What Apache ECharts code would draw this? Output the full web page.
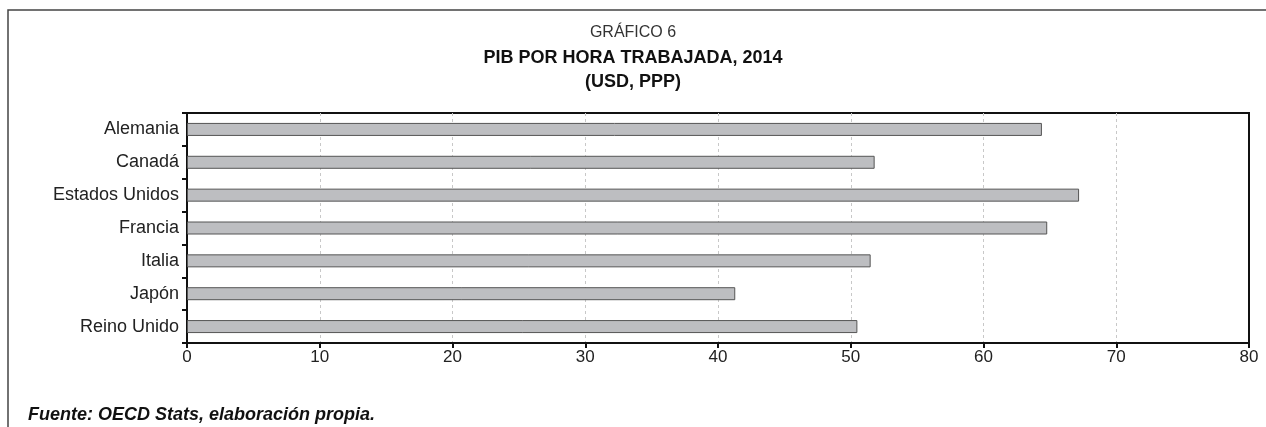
<!DOCTYPE html>
<html>
<head>
<meta charset="utf-8">
<script src="https://cdn.jsdelivr.net/npm/echarts@6/dist/echarts.min.js"></script>
<style>
  html, body { margin: 0; padding: 0; background: #fff; }
  #chart { width: 1266px; height: 427px; }
</style>
</head>
<body>
<div id="chart"></div>
<script>
// PIB por hora trabajada, 2014 (USD, PPP)
const countries = ['Alemania', 'Canadá', 'Estados Unidos', 'Francia', 'Italia', 'Japón', 'Reino Unido'];
const gdpPerHour = [64.4, 51.8, 67.2, 64.8, 51.5, 41.3, 50.5];
const xTicks = [0, 10, 20, 30, 40, 50, 60, 70, 80];

const font = "'Liberation Sans', Arial, Helvetica, sans-serif";

const chart = echarts.init(document.getElementById('chart'), null, { renderer: 'canvas' });

chart.setOption({
  animation: false,
  backgroundColor: '#fff',
  textStyle: { fontFamily: font },
  title: [
    {
      text: 'GRÁFICO 6',
      left: 'center',
      top: 20,
      textStyle: { fontSize: 16, fontWeight: 'normal', color: '#333', fontFamily: font }
    },
    {
      text: 'PIB POR HORA TRABAJADA, 2014\n(USD, PPP)',
      left: 'center',
      top: 41,
      textStyle: { fontSize: 18, fontWeight: 'bold', color: '#111', fontFamily: font, lineHeight: 24 }
    },
    {
      text: 'Fuente: OECD Stats, elaboración propia.',
      left: 23,
      top: 401,
      textStyle: { fontSize: 18, fontWeight: 'bold', fontStyle: 'italic', color: '#111', fontFamily: font }
    }
  ],
  graphic: [
    {
      type: 'polyline',
      shape: { points: [[8, 427], [8, 10], [1266, 10]] },
      style: { stroke: '#444', lineWidth: 1.5, fill: null }
    }
  ],
  grid: {
    left: 187,
    right: 17,
    top: 113,
    bottom: 84,
    show: true,
    borderColor: '#111',
    borderWidth: 2,
    containLabel: false
  },
  xAxis: {
    type: 'value',
    min: xTicks[0],
    max: xTicks[xTicks.length - 1],
    interval: 10,
    axisLine: { show: true, lineStyle: { color: '#111', width: 2 } },
    axisTick: { show: true, length: 5, lineStyle: { color: '#111', width: 2 } },
    axisLabel: { fontSize: 17, color: '#222', margin: 6, fontFamily: font },
    splitLine: {
      show: true,
      showMinLine: false,
      showMaxLine: false,
      lineStyle: { color: '#c8c8c8', type: [3, 3], width: 1 }
    }
  },
  yAxis: {
    type: 'category',
    data: countries,
    inverse: true,
    axisLine: { show: true, lineStyle: { color: '#111', width: 2 } },
    axisTick: { show: true, length: 5, alignWithLabel: false, lineStyle: { color: '#111', width: 2 } },
    axisLabel: { fontSize: 18, color: '#222', margin: 8, fontFamily: font },
    splitLine: { show: false }
  },
  series: [
    {
      type: 'bar',
      data: gdpPerHour,
      barWidth: 13,
      itemStyle: { color: '#bdbec1', borderColor: '#555', borderWidth: 1 }
    }
  ]
});
</script>
</body>
</html>
